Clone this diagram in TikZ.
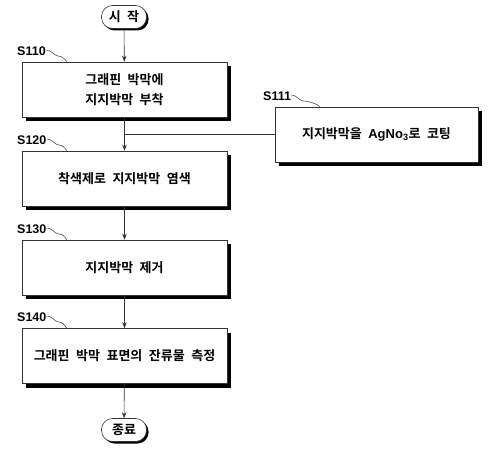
\documentclass[tikz,border=0pt]{standalone}
\usepackage{fontspec}
\newfontfamily\kr{Noto Sans CJK KR}[BoldFont={Noto Sans CJK KR Bold},WordSpace=2.2]
\newfontfamily\lab{Liberation Sans}
\usepackage{tikz}
\usetikzlibrary{arrows.meta,shadows,positioning}

\tikzset{
  stepbox/.style={draw=black!80,line width=0.6pt,fill=white,minimum width=205pt,minimum height=55pt,
    align=center,inner sep=0pt,font=\kr\bfseries\fontsize{13}{20}\selectfont,
    drop shadow={shadow xshift=4pt,shadow yshift=-4pt,fill=black,opacity=1}},
  termbox/.style={draw=black!80,line width=0.6pt,fill=white,rounded corners=11pt,minimum width=45pt,
    minimum height=23pt,inner sep=0pt,font=\kr\bfseries\fontsize{13}{14}\selectfont,
    drop shadow={shadow xshift=2pt,shadow yshift=-2pt,fill=black,opacity=1}},
  steplabel/.style={anchor=west,inner sep=0pt,font=\lab\bfseries\fontsize{12.5}{13}\selectfont},
  flow/.style={line width=0.6pt,black!80,-{Stealth[length=6pt,width=4.5pt]}},
  squig/.style={line width=0.5pt,black!80}
}

\begin{document}
\begin{tikzpicture}[x=1pt,y=-1pt]
\useasboundingbox (0,0) rectangle (503,452);

\node[termbox] (start) at (124,17) {시 작};
\node[stepbox] (s110) at (124.5,89.5) {그래핀 박막에\\지지박막 부착};
\node[stepbox] (s120) at (124.5,178.5) {착색제로 지지박막 염색};
\node[stepbox] (s130) at (124.5,267.5) {지지박막 제거};
\node[stepbox] (s140) at (124.5,356) {그래핀 박막 표면의 잔류물 측정};
\node[termbox] (end) at (124,430) {종료};
\node[stepbox,minimum width=203pt] (s111) at (376.5,134.5) {지지박막을 {\lab AgNo\textsubscript{3}}로 코팅};

% step labels
\node[steplabel] (l110) at (17,51) {S110};
\node[steplabel] (l111) at (263,96) {S111};
\node[steplabel] (l120) at (17,140) {S120};
\node[steplabel] (l130) at (17,229) {S130};
\node[steplabel] (l140) at (17,317) {S140};

\foreach \l/\b in {l110/s110,l111/s111,l120/s120,l130/s130,l140/s140}{
  \draw[squig] (\l.east) .. controls +(4,-3) and +(-4,0) .. ([xshift=12pt,yshift=-5pt]\l.east)
    .. controls +(4,0) and +(-2,-3) .. ([xshift=45pt]\b.north west);
}

\draw[flow] (start) -- (s110);
\draw[flow] (s110) -- (s120);
\draw[flow] (s120) -- (s130);
\draw[flow] (s130) -- (s140);
\draw[flow] (s140) -- (end);
\draw[line width=0.6pt,black!80] (s111.west) -- (s110.south |- s111.west);
\end{tikzpicture}
\end{document}
